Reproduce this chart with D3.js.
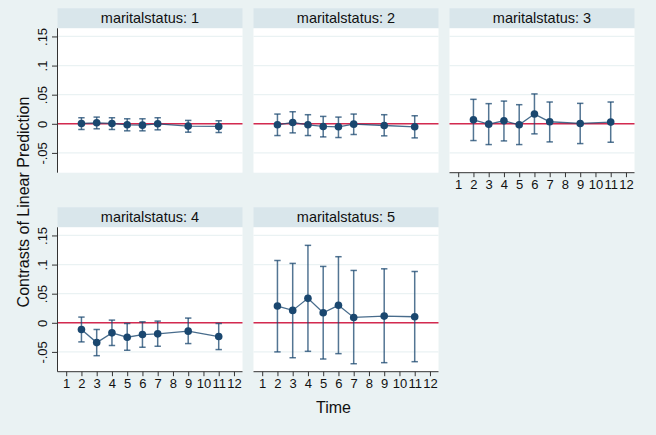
<!DOCTYPE html>
<html><head><meta charset="utf-8">
<script src="https://cdn.jsdelivr.net/npm/d3@7"></script>
<style>body{margin:0;background:#eaf2f3;}svg{display:block;}text{font-family:"Liberation Sans",Arial,sans-serif;}</style>
</head><body><div id="c"></div>
<script>
const times = [2,3,4,5,6,7,9,11];
const xTicks = [1,2,3,4,5,6,7,8,9,10,11,12];
const yTicks = [-0.05,0,0.05,0.1,0.15];
const yTickLabels = ["-.05","0",".05",".1",".15"];
const panelLabels = ["maritalstatus: 1","maritalstatus: 2","maritalstatus: 3","maritalstatus: 4","maritalstatus: 5"];
const est1 = [0.0006,0.0017,0.0006,-0.0017,-0.0023,0.0000,-0.0040,-0.0046];
const hi1  = [0.0104,0.0115,0.0104,0.0086,0.0086,0.0104,0.0058,0.0052];
const lo1  = [-0.0098,-0.0086,-0.0098,-0.0121,-0.0121,-0.0104,-0.0144,-0.0150];
const est2 = [-0.0017,0.0023,-0.0017,-0.0046,-0.0052,-0.0006,-0.0029,-0.0052];
const hi2  = [0.0167,0.0207,0.0156,0.0127,0.0115,0.0167,0.0156,0.0138];
const lo2  = [-0.0202,-0.0156,-0.0202,-0.0225,-0.0236,-0.0184,-0.0207,-0.0242];
const est3 = [0.0069,-0.0006,0.0052,-0.0017,0.0167,0.0035,0.0006,0.0029];
const hi3  = [0.0420,0.0346,0.0390,0.0328,0.0513,0.0374,0.0351,0.0374];
const lo3  = [-0.0288,-0.0357,-0.0294,-0.0357,-0.0173,-0.0311,-0.0340,-0.0317];
const est4 = [-0.0115,-0.0340,-0.0173,-0.0248,-0.0202,-0.0190,-0.0144,-0.0236];
const hi4  = [0.0098,-0.0115,0.0046,-0.0012,0.0017,0.0029,0.0081,-0.0012];
const lo4  = [-0.0328,-0.0565,-0.0390,-0.0472,-0.0420,-0.0403,-0.0357,-0.0460];
const est5 = [0.0288,0.0213,0.0420,0.0173,0.0300,0.0092,0.0115,0.0104];
const hi5  = [0.1070,0.1020,0.1330,0.0968,0.1135,0.0899,0.0927,0.0881];
const lo5  = [-0.0500,-0.0600,-0.0490,-0.0622,-0.0530,-0.0703,-0.0685,-0.0668];
const estimates = [est1,est2,est3,est4,est5];
const highs = [hi1,hi2,hi3,hi4,hi5];
const lows = [lo1,lo2,lo3,lo4,lo5];

const W=656,H=435;
const svg=d3.select("#c").append("svg").attr("width",W).attr("height",H);
svg.append("rect").attr("width",W).attr("height",H).attr("fill","#eaf2f3");

const pw=185, colStep=196, left0=57.5;
const rowTops=[8.3,207.3], headH=20, ph=144.4;
const navy="#1a476f";

panelLabels.forEach((lab,i)=>{
  const r=Math.floor(i/3), c=i%3;
  const x0=left0+c*colStep, top=rowTops[r];
  const py=top+headH;
  const g=svg.append("g").attr("transform",`translate(${x0},0)`);
  g.append("rect").attr("x",0).attr("y",top).attr("width",pw).attr("height",headH).attr("fill","#d9e6eb");
  g.append("text").attr("x",pw/2).attr("y",top+headH/2+5).attr("text-anchor","middle").attr("font-size",14.5).attr("fill","#111").text(lab);
  g.append("rect").attr("x",0).attr("y",py).attr("width",pw).attr("height",ph).attr("fill","#fff");
  const x=d3.scaleLinear().domain([0.43,12.56]).range([0,pw]);
  const y=d3.scaleLinear().domain([-0.084,0.164]).range([py+ph,py]);
  g.selectAll(".grid").data(yTicks).enter().append("line")
    .attr("x1",0).attr("x2",pw).attr("y1",d=>y(d)).attr("y2",d=>y(d))
    .attr("stroke","#eaf2f3").attr("stroke-width",1.2);
  g.append("line").attr("x1",0).attr("x2",pw).attr("y1",y(0)).attr("y2",y(0)).attr("stroke","#d42a50").attr("stroke-width",1.4);
  const est=estimates[i], hi=highs[i], lo=lows[i];
  const pts=times.map((t,k)=>({t,e:est[k],h:hi[k],l:lo[k]}));
  const ci=g.append("g").attr("stroke",navy).attr("stroke-opacity",0.75).attr("stroke-width",1.5).attr("fill","none");
  pts.forEach(p=>{
    ci.append("line").attr("x1",x(p.t)).attr("x2",x(p.t)).attr("y1",y(p.l)).attr("y2",y(p.h));
    ci.append("line").attr("x1",x(p.t)-3.2).attr("x2",x(p.t)+3.2).attr("y1",y(p.l)).attr("y2",y(p.l));
    ci.append("line").attr("x1",x(p.t)-3.2).attr("x2",x(p.t)+3.2).attr("y1",y(p.h)).attr("y2",y(p.h));
  });
  g.append("path").datum(pts).attr("fill","none").attr("stroke",navy).attr("stroke-opacity",0.8).attr("stroke-width",1.3)
    .attr("d",d3.line().x(d=>x(d.t)).y(d=>y(d.e)));
  g.selectAll(".pt").data(pts).enter().append("circle").attr("cx",d=>x(d.t)).attr("cy",d=>y(d.e)).attr("r",3.8).attr("fill",navy);
  if(c===0){
    const ya=d3.axisLeft(y).tickValues(yTicks).tickSize(5.5).tickFormat((d,k)=>yTickLabels[k]);
    const ag=g.append("g").call(ya);
    ag.select(".domain").attr("stroke","#333").attr("d",`M0,${py}V${py+ph}`);
    ag.selectAll(".tick line").attr("stroke","#333");
    ag.selectAll(".tick text").attr("font-size",13).attr("fill","#111").attr("font-family","Liberation Sans, Arial, sans-serif")
      .attr("x",null).attr("y",null).attr("dy",0)
      .attr("transform","translate(-10.5,0) rotate(-90)").attr("text-anchor","middle");
  }
  if(i>=2){
    const xa=d3.axisBottom(x).tickValues(xTicks).tickSize(4.5).tickFormat(d3.format("d"));
    const ag=g.append("g").attr("transform",`translate(0,${py+ph})`).call(xa);
    ag.select(".domain").attr("stroke","#333").attr("d",`M0,0H${pw}`);
    ag.selectAll(".tick line").attr("stroke","#333");
    ag.selectAll(".tick text").attr("font-size",13).attr("fill","#111").attr("font-family","Liberation Sans, Arial, sans-serif").attr("y",7.5).attr("dy","0.71em");
  }
});

svg.append("text").attr("transform","translate(28.5,202) rotate(-90)").attr("text-anchor","middle").attr("font-size",16).attr("fill","#111").text("Contrasts of Linear Prediction");
svg.append("text").attr("x",333.5).attr("y",413.3).attr("text-anchor","middle").attr("font-size",16).attr("fill","#111").text("Time");
</script></body></html>
